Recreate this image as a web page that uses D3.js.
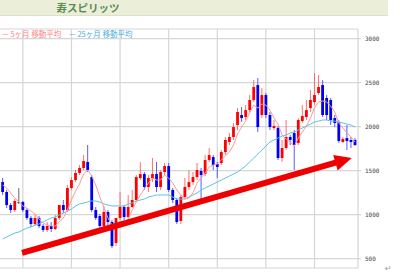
<!DOCTYPE html>
<html>
<head>
<meta charset="utf-8">
<script src="https://cdn.jsdelivr.net/npm/d3@7"></script>
<style>
  body { margin: 0; background: #fff; }
  svg { display: block; }
</style>
</head>
<body>
<div id="chart"></div>
<script>
// 月足 (円) — 左から右へ
const open = [1371,1258,1110,1053,1144,1144,1053,963,894,963,
  872,826,872,838,963,1110,1053,1303,1394,1474,
  1531,1599,1428,1053,985,872,1031,917,679,963,
  1088,974,1088,1167,1417,1462,1315,1417,1462,1315,
  1485,1553,1281,1167,928,1201,1315,1371,1428,1497,
  1462,1621,1655,1576,1587,1712,1826,1883,2019,2133,
  2110,2189,2303,2473,2133,2360,2133,1985,1985,1644,
  1758,1883,1928,1815,2064,2110,2212,2280,2383,2473,
  2326,2303,2098,2053,1826,1871,1849,1849];
const high = [1417,1281,1133,1178,1303,1156,1076,985,997,985,
  894,917,917,997,1110,1167,1337,1428,1508,1565,
  1678,1792,1451,1088,1008,1099,1053,940,963,1258,
  1110,1224,1281,1451,1599,1485,1451,1644,1599,1508,
  1587,1587,1303,1190,1224,1417,1508,1485,1587,1531,
  1678,1758,1678,1599,1735,1883,1928,2042,2212,2223,
  2246,2360,2530,2553,2439,2383,2167,2076,2008,1849,
  2076,1905,1962,2098,2246,2303,2417,2610,2587,2530,
  2360,2326,2133,2076,1883,2019,1883,1871];
const low = [1224,1076,1019,1031,1122,1031,940,860,872,849,
  803,803,803,826,940,1019,1031,1281,1371,1451,
  1508,1485,1031,940,826,849,883,622,644,940,
  940,963,1076,1144,1394,1281,1258,1371,1258,1281,
  1451,1258,1133,894,894,1190,1281,1337,1394,1167,
  1439,1599,1508,1417,1565,1678,1792,1849,1962,2053,
  2076,2167,2280,1939,2098,2098,1962,1962,1621,1599,
  1735,1792,1508,1792,2042,2076,2167,2246,2360,2110,
  2076,2019,1996,1815,1815,1735,1758,1781];
const close = [1258,1110,1053,1156,1144,1053,963,894,963,872,
  826,872,838,963,1110,1053,1303,1394,1474,1531,
  1610,1508,1053,963,872,1031,917,644,963,1088,
  974,1088,1167,1428,1462,1315,1417,1462,1315,1485,
  1553,1281,1167,917,1201,1315,1371,1428,1508,1451,
  1621,1678,1565,1542,1712,1849,1883,1996,2167,2098,
  2189,2303,2451,1996,2360,2133,1996,2008,1644,1758,
  1883,1849,1792,2076,2121,2189,2303,2360,2451,2133,
  2133,2076,2042,1837,1860,1837,1826,1792];

// 移動平均 (チャートから読み取り)
const ma5 = [1337,1303,1247,1190,1144,1099,1076,1042,1008,951,
  906,883,872,872,917,963,1053,1167,1269,1349,
  1462,1508,1440,1337,1201,1088,963,883,883,928,
  917,951,1053,1144,1224,1292,1360,1417,1394,1394,
  1451,1417,1360,1281,1224,1178,1190,1247,1360,1417,
  1474,1542,1565,1576,1621,1667,1712,1792,1917,1996,
  2064,2155,2246,2212,2258,2246,2189,2098,2030,1905,
  1860,1826,1780,1871,1939,2008,2098,2212,2280,2292,
  2280,2235,2167,2042,1985,1928,1883,1826];
const ma25 = [724,747,769,792,803,826,849,860,883,894,
  917,940,963,974,997,1019,1042,1065,1099,1122,
  1133,1144,1156,1156,1144,1122,1110,1099,1099,1099,
  1099,1122,1133,1156,1167,1178,1201,1212,1224,1224,
  1224,1224,1201,1178,1178,1178,1201,1224,1247,1281,
  1303,1326,1348,1371,1394,1417,1439,1462,1485,1519,
  1553,1599,1644,1689,1735,1780,1826,1849,1871,1894,
  1905,1928,1939,1962,1985,2008,2030,2053,2064,2076,
  2076,2064,2064,2053,2042,2030,2019,1996];

const yTicks = [500, 1000, 1500, 2000, 2500, 3000];
const yearLines = [5, 17, 29, 41, 53, 65, 77]; // 縦グリッド (足の番号)
// 矢印 (足の番号, 株価)
const arrowFrom = [4.8, 565];
const arrowTip = [86.2, 1644];

const width = 400, height = 274;
const plotTop = 29, plotBottom = 268, plotRight = 358;

const svg = d3.select("#chart").append("svg")
  .attr("width", width).attr("height", height);

const x = d3.scaleLinear().domain([0, close.length - 1]).range([2.6, 355]);
const y = d3.scaleLinear().domain([500, 3000]).range([258.7, 38.7]);

// タイトル帯
svg.append("rect").attr("x", 0).attr("y", 0).attr("width", 388).attr("height", 15)
  .attr("fill", "#ebeed9");
svg.append("line").attr("x1", 0).attr("x2", 388).attr("y1", 15.5).attr("y2", 15.5)
  .attr("stroke", "#dde1c8");
svg.append("text").attr("x", 88).attr("y", 11.5).attr("text-anchor", "middle")
  .attr("font-family", "Noto Sans CJK JP").attr("font-weight", "bold")
  .attr("font-size", 10.5).attr("fill", "#5a8c50").text("寿スピリッツ");

// グリッド
const grid = svg.append("g").attr("stroke", "#d6d6d6").attr("stroke-width", 1.2);
grid.selectAll("line.h").data(yTicks).enter().append("line")
  .attr("x1", 0).attr("x2", 361)
  .attr("y1", (d) => y(d)).attr("y2", (d) => y(d));
grid.selectAll("line.v").data(yearLines).enter().append("line")
  .attr("x1", (d) => x(d)).attr("x2", (d) => x(d))
  .attr("y1", plotTop).attr("y2", plotBottom);
grid.append("line").attr("x1", 0).attr("x2", plotRight).attr("y1", plotTop).attr("y2", plotTop);
grid.append("line").attr("x1", 0).attr("x2", plotRight).attr("y1", plotBottom).attr("y2", plotBottom);
grid.append("line").attr("x1", plotRight).attr("x2", plotRight).attr("y1", plotTop).attr("y2", plotBottom);

// 目盛ラベル
svg.append("g").selectAll("text").data(yTicks).enter().append("text")
  .attr("x", 365).attr("y", (d) => y(d) + 2.2)
  .attr("font-family", "DejaVu Sans Mono").attr("font-size", 6)
  .attr("fill", "#444").text((d) => d);

// ローソク足
const idx = d3.range(close.length);
const col = (i) => close[i] > open[i] ? "#ff0000" : close[i] < open[i] ? "#0000ee" : "#444";
const wickCol = (i) => close[i] > open[i] ? "#ff6060" : close[i] < open[i] ? "#4a4aff" : "#555";
const candles = svg.append("g");
candles.selectAll("line").data(idx).enter().append("line")
  .attr("x1", (i) => x(i)).attr("x2", (i) => x(i))
  .attr("y1", (i) => y(high[i])).attr("y2", (i) => y(low[i]))
  .attr("stroke", wickCol).attr("stroke-width", 0.9);
candles.selectAll("rect").data(idx).enter().append("rect")
  .attr("x", (i) => x(i) - 1.4).attr("width", 2.8)
  .attr("y", (i) => y(Math.max(open[i], close[i])))
  .attr("height", (i) => Math.max(0.8, Math.abs(y(open[i]) - y(close[i]))))
  .attr("fill", col);

// 移動平均線
const line = d3.line().x((d, i) => x(i)).y((d) => y(d));
svg.append("path").datum(ma25).attr("d", line)
  .attr("fill", "none").attr("stroke", "#5cc3e4").attr("stroke-width", 1);
svg.append("path").datum(ma5).attr("d", line)
  .attr("fill", "none").attr("stroke", "#ff9a9a").attr("stroke-width", 1);

// 凡例
const legend = svg.append("g").attr("font-family", "Noto Sans CJK JP").attr("font-size", 7.5);
legend.append("text").attr("x", 2).attr("y", 36.5).attr("fill", "#ff8080").text("— 5ヶ月 移動平均");
legend.append("text").attr("x", 69).attr("y", 36.5).attr("fill", "#45aedc").text("— 25ヶ月 移動平均");

// 赤い矢印
const p0 = [x(arrowFrom[0]), y(arrowFrom[1])];
const p1 = [x(arrowTip[0]), y(arrowTip[1])];
const len = Math.hypot(p1[0] - p0[0], p1[1] - p0[1]);
const ux = (p1[0] - p0[0]) / len, uy = (p1[1] - p0[1]) / len;
const headLen = 17, headW = 8;
const base = [p1[0] - ux * headLen, p1[1] - uy * headLen];
svg.append("line")
  .attr("x1", p0[0]).attr("y1", p0[1]).attr("x2", base[0] + ux * 2).attr("y2", base[1] + uy * 2)
  .attr("stroke", "#ee0000").attr("stroke-width", 6);
svg.append("polygon")
  .attr("points", [
    p1,
    [base[0] - uy * headW, base[1] + ux * headW],
    [base[0] + uy * headW, base[1] - ux * headW]
  ].map((p) => p.join(",")).join(" "))
  .attr("fill", "#ee0000");

// 段落記号
svg.append("text").attr("x", 385).attr("y", 271).attr("font-family", "DejaVu Sans")
  .attr("font-size", 8).attr("fill", "#999").text("↵");
</script>
</body>
</html>
